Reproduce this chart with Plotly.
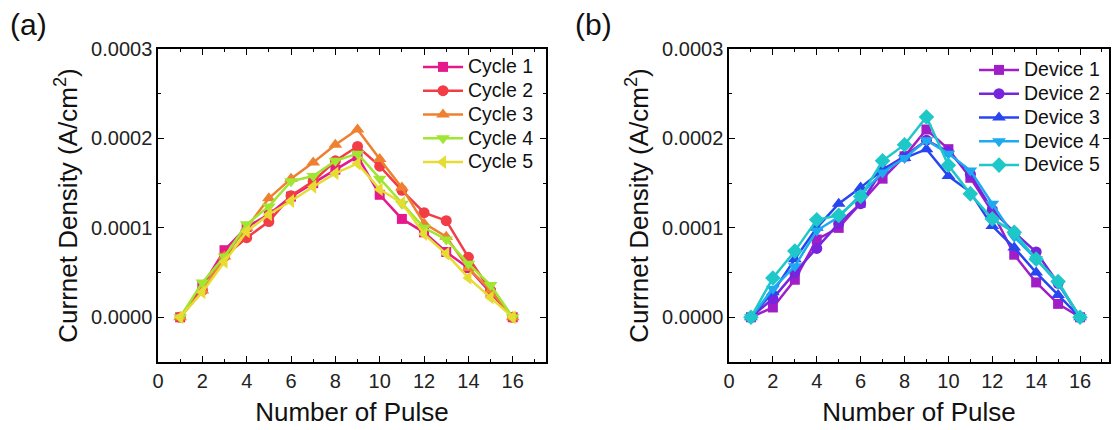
import plotly.graph_objects as go

pulses = list(range(1, 17))

cycle_names = ["Cycle 1", "Cycle 2", "Cycle 3", "Cycle 4", "Cycle 5"]
cycle1 = [0, 0.35, 0.75, 1.01, 1.15, 1.35, 1.50, 1.65, 1.80, 1.37, 1.10, 0.95, 0.73, 0.55, 0.27, 0]
cycle2 = [0, 0.30, 0.68, 0.89, 1.07, 1.36, 1.52, 1.75, 1.91, 1.69, 1.42, 1.17, 1.08, 0.67, 0.30, 0]
cycle3 = [0, 0.30, 0.68, 1.00, 1.33, 1.55, 1.73, 1.93, 2.10, 1.77, 1.45, 1.05, 0.90, 0.55, 0.30, 0]
cycle4 = [0, 0.39, 0.68, 1.04, 1.24, 1.52, 1.58, 1.75, 1.83, 1.55, 1.27, 1.00, 0.87, 0.60, 0.36, 0]
cycle5 = [0, 0.28, 0.62, 0.96, 1.15, 1.30, 1.46, 1.61, 1.72, 1.43, 1.28, 0.93, 0.71, 0.44, 0.22, 0]

device_names = ["Device 1", "Device 2", "Device 3", "Device 4", "Device 5"]
device1 = [0, 0.11, 0.42, 0.87, 1.00, 1.28, 1.55, 1.80, 2.10, 1.88, 1.56, 1.18, 0.70, 0.39, 0.15, 0]
device2 = [0, 0.21, 0.50, 0.77, 1.05, 1.27, 1.65, 1.80, 1.98, 1.85, 1.60, 1.20, 0.95, 0.73, 0.38, 0]
device3 = [0, 0.28, 0.65, 1.00, 1.27, 1.45, 1.65, 1.78, 1.88, 1.58, 1.40, 1.02, 0.78, 0.50, 0.25, 0]
device4 = [0, 0.32, 0.57, 0.97, 1.12, 1.37, 1.62, 1.78, 1.98, 1.83, 1.64, 1.27, 0.90, 0.65, 0.38, 0]
device5 = [0, 0.44, 0.74, 1.09, 1.14, 1.35, 1.75, 1.93, 2.24, 1.70, 1.38, 1.10, 0.95, 0.65, 0.40, 0]

scale = 1e-4  # values above are in units of 1e-4 A/cm^2

cycle_colors = ["#E6198C", "#F23C46", "#EE8030", "#A0E632", "#E6DC32"]
device_colors = ["#A01EC8", "#7823DC", "#2846F0", "#1EAAF0", "#1EC8C8"]
symbols = ["square", "circle", "triangle-up", "triangle-down", "diamond"]
cycle_symbols = ["square", "circle", "triangle-up", "triangle-down", "triangle-left"]
sizes = [10, 11, 12, 12, 12]

def legend_label(name):
    return '<span style="font-size:19.5px">' + name + '</span>'

fig = go.Figure()

for name, vals, col, sym, sz in zip(cycle_names, [cycle1, cycle2, cycle3, cycle4, cycle5], cycle_colors, cycle_symbols, sizes):
    fig.add_trace(go.Scatter(x=pulses, y=[v * scale for v in vals], name=legend_label(name), mode="lines+markers",
                             line=dict(color=col, width=2.5), marker=dict(symbol=sym, size=sz, color=col),
                             xaxis="x", yaxis="y", legend="legend"))

for name, vals, col, sym, sz in zip(device_names, [device1, device2, device3, device4, device5], device_colors, symbols, sizes):
    fig.add_trace(go.Scatter(x=pulses, y=[v * scale for v in vals], name=legend_label(name), mode="lines+markers",
                             line=dict(color=col, width=2.5), marker=dict(symbol=sym, size=sz, color=col),
                             xaxis="x2", yaxis="y2", legend="legend2"))

font_family = "Liberation Sans, Arial, sans-serif"

def xax(domain, rng, anchor):
    return dict(domain=domain, range=rng, anchor=anchor, dtick=2, tick0=0, automargin=False,
                ticks="inside", ticklen=6, tickwidth=1.2, tickcolor="black",
                minor=dict(dtick=1, ticks="inside", ticklen=3, tickcolor="black", tickwidth=1),
                showline=True, linecolor="black", linewidth=1.5, mirror="ticks",
                showgrid=False, zeroline=False,
                tickfont=dict(size=20, color="#222"),
                title=dict(text="Number of Pulse", font=dict(size=26, color="#111"), standoff=12))

def yax(domain, anchor):
    return dict(domain=domain, range=[-0.00005, 0.0003], anchor=anchor, dtick=0.0001, tick0=0,
                tickformat=".4f", automargin=False,
                ticks="inside", ticklen=6, tickwidth=1.2, tickcolor="black",
                minor=dict(dtick=0.00005, ticks="inside", ticklen=3, tickcolor="black", tickwidth=1),
                showline=True, linecolor="black", linewidth=1.5, mirror="ticks",
                showgrid=False, zeroline=False,
                tickfont=dict(size=20, color="#222"),
                title=dict(text="Currnet Density (A/cm<sup>2</sup>)", font=dict(size=26, color="#111"), standoff=6))

ydom = [1 - 362 / 430, 1 - 49 / 430]

fig.update_layout(
    width=1115, height=430,
    margin=dict(l=0, r=0, t=0, b=0, autoexpand=False),
    paper_bgcolor="white", plot_bgcolor="white",
    font=dict(family=font_family, color="#111"),
    xaxis=xax([158 / 1115, 546 / 1115], [0, 17.5], "y"),
    yaxis=yax(ydom, "x"),
    xaxis2=xax([729 / 1115, 1109 / 1115], [0, 17.32], "y2"),
    yaxis2=yax(ydom, "x2"),
    legend=dict(x=418 / 1115, y=1 - 50 / 430, xanchor="left", yanchor="top",
                bgcolor="rgba(0,0,0,0)", font=dict(size=16, color="#111"),
                itemwidth=40, tracegroupgap=0),
    legend2=dict(x=974 / 1115, y=1 - 53 / 430, xanchor="left", yanchor="top",
                 bgcolor="rgba(0,0,0,0)", font=dict(size=16, color="#111"),
                 itemwidth=40, tracegroupgap=0),
    annotations=[
        dict(text="(a)", x=8 / 1115, y=1 - 25 / 430, xref="paper", yref="paper",
             xanchor="left", yanchor="middle", showarrow=False, font=dict(size=30, color="#111")),
        dict(text="(b)", x=573 / 1115, y=1 - 25 / 430, xref="paper", yref="paper",
             xanchor="left", yanchor="middle", showarrow=False, font=dict(size=30, color="#111")),
    ],
)

fig.write_html("out.html", config={"displayModeBar": False},
               post_script="document.body.style.margin='0px';")
